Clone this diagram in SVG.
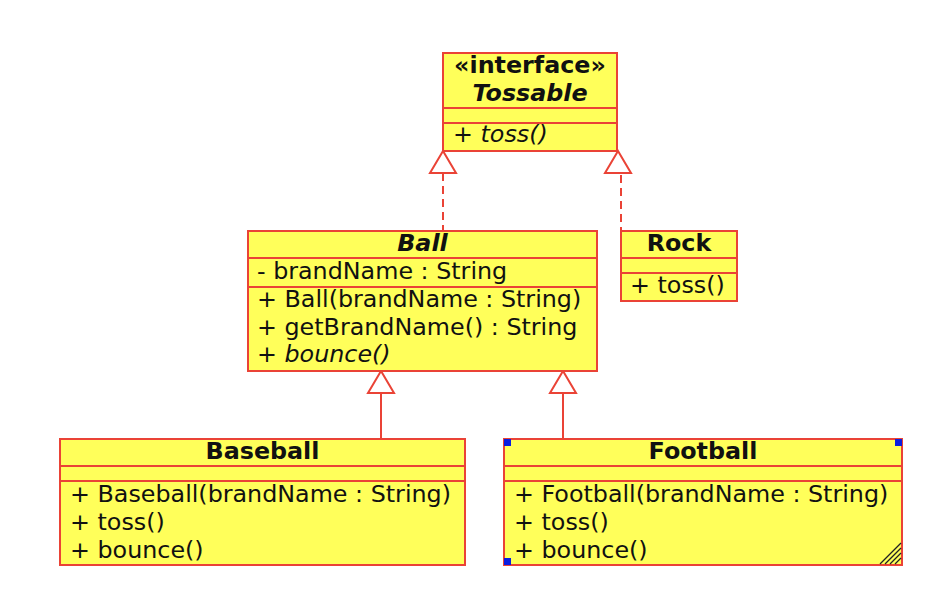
<svg xmlns="http://www.w3.org/2000/svg" width="952" height="604" viewBox="0 0 952 604">
<style>
.box{fill:#ffff5a;stroke:#ea4336;stroke-width:2}
.ln{stroke:#ea4336;stroke-width:2;fill:none}
.dash{stroke-dasharray:8 5}
.tri{fill:#ffffff;stroke:#ea4336;stroke-width:2}
text{font-family:"DejaVu Sans",Verdana,sans-serif;font-size:23.8px;fill:#111}
.t{font-weight:bold;text-anchor:middle}
.i{font-style:italic}
.h{fill:#0a1ee0}
</style>
<rect width="952" height="604" fill="#ffffff"/>
<g id="connectors">
<line class="ln dash" x1="443" y1="173" x2="443" y2="231"/>
<polygon class="tri" points="443,151 430,173 456,173"/>
<line class="ln dash" x1="621" y1="175" x2="621" y2="231"/>
<polygon class="tri" points="618,151 605,173 631,173"/>
<line class="ln" x1="381" y1="393" x2="381" y2="439"/>
<polygon class="tri" points="381,371 368,393 394,393"/>
<line class="ln" x1="563" y1="393" x2="563" y2="439"/>
<polygon class="tri" points="563,371 550,393 576,393"/>
</g>
<g id="Tossable">
<rect class="box" x="443" y="53" width="174" height="98"/>
<line class="ln" x1="443" y1="108" x2="617" y2="108"/>
<line class="ln" x1="443" y1="123" x2="617" y2="123"/>
<text class="t" x="530" y="73">«interface»</text>
<text class="t i" x="530" y="101">Tossable</text>
<text class="i" x="453" y="142">+ toss()</text>
</g>
<g id="Ball">
<rect class="box" x="248" y="231" width="349" height="140"/>
<line class="ln" x1="248" y1="258" x2="597" y2="258"/>
<line class="ln" x1="248" y1="287" x2="597" y2="287"/>
<text class="t i" x="422.5" y="251">Ball</text>
<text x="257" y="279">- brandName : String</text>
<text x="257" y="307">+ Ball(brandName : String)</text>
<text x="257" y="335">+ getBrandName() : String</text>
<text x="257" y="362">+ <tspan class="i">bounce()</tspan></text>
</g>
<g id="Rock">
<rect class="box" x="621" y="231" width="116" height="70"/>
<line class="ln" x1="621" y1="258" x2="737" y2="258"/>
<line class="ln" x1="621" y1="273" x2="737" y2="273"/>
<text class="t" x="679" y="251">Rock</text>
<text x="630" y="293">+ toss()</text>
</g>
<g id="Baseball">
<rect class="box" x="60" y="439" width="405" height="126"/>
<line class="ln" x1="60" y1="466" x2="465" y2="466"/>
<line class="ln" x1="60" y1="481" x2="465" y2="481"/>
<text class="t" x="262.5" y="459">Baseball</text>
<text x="70" y="502">+ Baseball(brandName : String)</text>
<text x="70" y="530">+ toss()</text>
<text x="70" y="558">+ bounce()</text>
</g>
<g id="Football">
<rect class="box" x="504" y="439" width="398" height="126"/>
<line class="ln" x1="504" y1="466" x2="902" y2="466"/>
<line class="ln" x1="504" y1="481" x2="902" y2="481"/>
<text class="t" x="703" y="459">Football</text>
<text x="514" y="502">+ Football(brandName : String)</text>
<text x="514" y="530">+ toss()</text>
<text x="514" y="558">+ bounce()</text>
<rect class="h" x="504" y="439" width="7" height="7"/>
<rect class="h" x="895" y="439" width="7" height="7"/>
<rect class="h" x="504" y="558" width="7" height="7"/>
<g stroke="#222" stroke-width="1.2">
<line x1="880" y1="564" x2="901" y2="543"/>
<line x1="885" y1="564" x2="901" y2="548"/>
<line x1="890" y1="564" x2="901" y2="553"/>
<line x1="895" y1="564" x2="901" y2="558"/>
</g>
</g>
</svg>
